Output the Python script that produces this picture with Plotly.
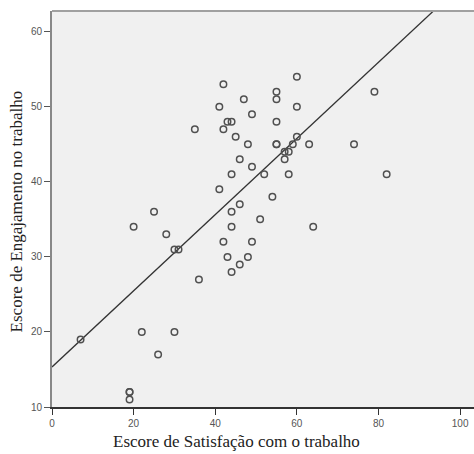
import plotly.graph_objects as go

# Data
satisfacao = [42, 41, 35, 42, 43, 44, 45, 46, 44, 41, 25, 44, 60, 55, 55, 47, 60, 79,
              49, 55, 48, 55, 55, 60, 59, 63, 74, 57, 58, 57, 49, 52, 58, 82, 54, 46,
              51, 44, 64, 42, 49, 43, 48, 46, 44, 20, 28, 30, 31, 36, 7, 22, 30, 26,
              19, 19, 19]
engajamento = [53, 50, 47, 47, 48, 48, 46, 43, 41, 39, 36, 36, 54, 52, 51, 51, 50, 52,
               49, 48, 45, 45, 45, 46, 45, 45, 45, 44, 44, 43, 42, 41, 41, 41, 38, 37,
               35, 34, 34, 32, 32, 30, 30, 29, 28, 34, 33, 31, 31, 27, 19, 20, 20, 17,
               12, 12, 11]

# Fit line (linear regression) as drawn in the reference
fit_intercept = 15.33
fit_slope = 0.5075

x_ticks = [0, 20, 40, 60, 80, 100]
y_ticks = [10, 20, 30, 40, 50, 60]

x_range = [0, 103.4]
y_range = [10, 62.76]

fig = go.Figure()

fig.add_trace(go.Scatter(
    x=x_range,
    y=[fit_intercept + fit_slope * v for v in x_range],
    mode="lines",
    line=dict(color="#333333", width=1.3),
    hoverinfo="skip",
    showlegend=False,
))

fig.add_trace(go.Scatter(
    x=satisfacao, y=engajamento,
    mode="markers",
    marker=dict(symbol="circle-open", size=6.5, color="#505050",
                line=dict(width=1.5, color="#505050")),
    showlegend=False,
))

fig.update_layout(
    width=474, height=454,
    margin=dict(l=52, r=0, t=11, b=47),
    paper_bgcolor="white",
    plot_bgcolor="#f0f0f0",
    font=dict(family="Liberation Sans, Arial", size=10, color="#555555"),
    xaxis=dict(
        range=x_range, tickvals=x_ticks, showgrid=False, zeroline=False,
        showline=True, linecolor="#333333", linewidth=1.5,
        ticks="outside", ticklen=6, tickcolor="#333333", tickwidth=1.2,
        tickfont=dict(size=10, color="#555555"),
    ),
    yaxis=dict(
        range=y_range, tickvals=y_ticks, showgrid=False, zeroline=False,
        showline=True, linecolor="#888888", linewidth=2,
        ticks="outside", ticklen=6, tickcolor="#555555", tickwidth=1.2,
        tickfont=dict(size=10, color="#555555"),
    ),
    shapes=[dict(type="line", xref="paper", yref="paper", x0=0, x1=1, y0=1, y1=1,
                 line=dict(color="#a0a0a0", width=2))],
    annotations=[
        dict(text="Escore de Satisfação com o trabalho", xref="paper", yref="paper",
             x=(236.7 - 52) / 422, y=-0.087, xanchor="center", yanchor="middle",
             showarrow=False,
             font=dict(family="Liberation Serif, Times New Roman", size=17, color="#222222")),
        dict(text="Escore de Engajamento no trabalho", xref="paper", yref="paper",
             x=-0.082, y=0.495, xanchor="center", yanchor="middle", textangle=-90,
             showarrow=False,
             font=dict(family="Liberation Serif, Times New Roman", size=17, color="#222222")),
    ],
)

fig.write_html(
    "out.html",
    config={"displayModeBar": False},
    post_script="document.body.style.margin='0';document.body.style.overflow='hidden';",
)
